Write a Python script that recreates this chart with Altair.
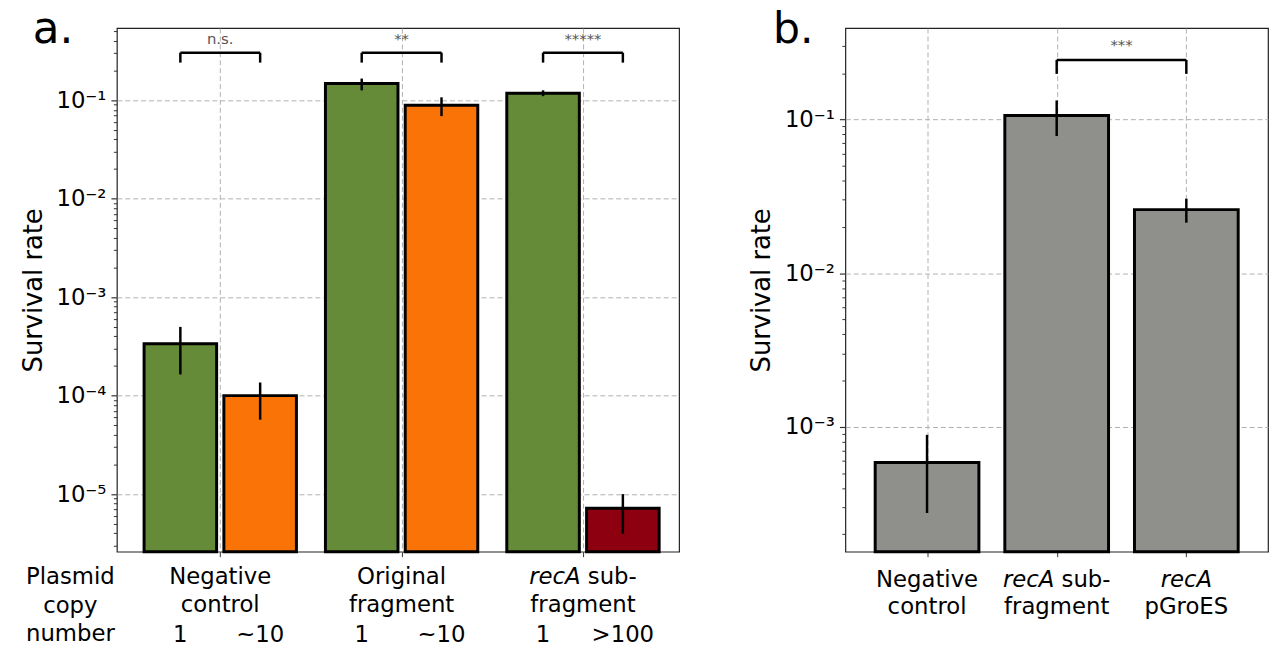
import altair as alt
import pandas as pd

# ---------------- data: panel a ----------------
a_group_pos = [0, 1, 2]
a_line12 = ["Negative\ncontrol", "Original\nfragment", "\nfragment"]
a_green = [3.37e-4, 0.148, 0.118]
a_green_lo = [1.64e-4, 0.126, 0.110]
a_green_hi = [4.99e-4, 0.166, 0.126]
a_other = [1.0e-4, 0.089, 7.2e-6]
a_other_lo = [5.7e-5, 0.069, 3.95e-6]
a_other_hi = [1.36e-4, 0.107, 1.0e-5]
a_green_color = "#658b38"
a_other_colors = ["#f97306", "#f97306", "#8c000f"]
a_copy_green = ["1", "1", "1"]
a_copy_other = ["~10", "~10", ">100"]
a_sig = ["n.s.", "**", "*****"]
a_major = [1e-5, 1e-4, 1e-3, 1e-2, 1e-1]

# ---------------- data: panel b ----------------
b_pos = [0, 1, 2]
b_line12 = ["Negative\ncontrol", "\nfragment", "\npGroES"]
b_vals = [5.86e-4, 0.106, 0.0259]
b_lo = [2.75e-4, 0.078, 0.0213]
b_hi = [8.87e-4, 0.133, 0.0305]
b_sig = ["***"]
b_major = [1e-3, 1e-2, 1e-1]
b_color = "#8f908c"

FONT = "DejaVu Sans"
A_YMIN, A_YMAX = 2.6e-6, 0.54
B_YMIN, B_YMAX = 1.54e-4, 0.393
OFF = 0.22
HALF_A = 0.2
HALF_B = 0.4

def minors(lo, hi):
    out = []
    e = -7
    while e < 1:
        for m in range(2, 10):
            v = m * 10.0 ** e
            if lo <= v <= hi:
                out.append(v)
        e += 1
    return out

LABEL_EXPR = ("'10\u207b' + substring('\u2070\u00b9\u00b2\u00b3\u2074\u2075\u2076\u2077\u2078\u2079', "
              "-round(log(datum.value)/LN10), -round(log(datum.value)/LN10)+1)")

GRID = dict(gridColor="#b0b0b0", gridDash=[5, 3], gridWidth=1)

def major_axis(vals):
    return alt.Axis(values=vals, labelExpr=LABEL_EXPR, orient="left", domain=False,
                    tickSize=6, tickColor="#333", tickWidth=1.2, labelPadding=5,
                    labelFont=FONT, labelFontSize=23, labelColor="black",
                    title="Survival rate", titleFont=FONT, titleFontSize=26,
                    titleFontWeight="normal", titleColor="black", titlePadding=10,
                    grid=True, **GRID)

def minor_axis(vals):
    return alt.Axis(values=vals, labels=False, orient="left", domain=False, grid=False,
                    tickSize=3.5, tickColor="#333", tickWidth=1, title=None)

def x_axis():
    return alt.Axis(values=[0, 1, 2], labels=False, domain=False, tickSize=5,
                    tickColor="#333", title=None, grid=True, **GRID)

# ---------------- panel a ----------------
rows = []
for i, p in enumerate(a_group_pos):
    rows.append(dict(c=p - OFF, x0=p - OFF - HALF_A, x1=p - OFF + HALF_A, val=a_green[i],
                     lo=a_green_lo[i], hi=a_green_hi[i], color=a_green_color, copy=a_copy_green[i]))
    rows.append(dict(c=p + OFF, x0=p + OFF - HALF_A, x1=p + OFF + HALF_A, val=a_other[i],
                     lo=a_other_lo[i], hi=a_other_hi[i], color=a_other_colors[i], copy=a_copy_other[i]))
dfa = pd.DataFrame(rows)

xsA = alt.Scale(domain=[-0.57, 2.53], nice=False, zero=False)
ysA = alt.Scale(type="log", domain=[A_YMIN, A_YMAX], nice=False)

barsA = alt.Chart(dfa).mark_bar(stroke="black", strokeWidth=3).encode(
    x=alt.X("x0:Q", scale=xsA, axis=x_axis()), x2="x1",
    y=alt.Y("val:Q", scale=ysA, axis=major_axis(a_major)), y2=alt.datum(A_YMIN),
    color=alt.Color("color:N", scale=None))
errA = alt.Chart(dfa).mark_rule(color="black", strokeWidth=2.5).encode(
    x=alt.X("c:Q", scale=xsA, axis=x_axis()),
    y=alt.Y("lo:Q", scale=ysA, axis=minor_axis(minors(A_YMIN, A_YMAX))), y2="hi")

A_BR, A_BR_END, A_TXT = 0.304, 0.241, 0.42
brA = pd.DataFrame(dict(xl=[p - OFF for p in a_group_pos], xr=[p + OFF for p in a_group_pos],
                        y=[A_BR] * 3, sig=a_sig, mid=a_group_pos))
brAv = pd.DataFrame(dict(x=[p - OFF for p in a_group_pos] + [p + OFF for p in a_group_pos],
                         y1=[A_BR_END] * 6, y2=[A_BR] * 6))
hA = alt.Chart(brA).mark_rule(color="black", strokeWidth=2.5).encode(
    x=alt.X("xl:Q", scale=xsA, axis=x_axis()), x2="xr",
    y=alt.Y("y:Q", scale=ysA, axis=None))
vA = alt.Chart(brAv).mark_rule(color="black", strokeWidth=2.5).encode(
    x=alt.X("x:Q", scale=xsA, axis=x_axis()),
    y=alt.Y("y1:Q", scale=ysA, axis=None), y2="y2")
sigA = alt.Chart(brA).mark_text(font=FONT, fontSize=15, color="#555", baseline="middle").encode(
    x=alt.X("mid:Q", scale=xsA, axis=x_axis()),
    y=alt.Y("y:Q", scale=ysA, axis=None), text="sig:N").transform_calculate(y=str(A_TXT))

HA = 529
L1A, L3A = HA + 15, HA + 73
labA = pd.DataFrame(dict(pos=a_group_pos, t=a_line12))
l12A = alt.Chart(labA).mark_text(font=FONT, fontSize=23, baseline="top", lineBreak="\n",
                                 lineHeight=28, color="black").encode(
    x=alt.X("pos:Q", scale=xsA, axis=x_axis()), y=alt.value(L1A), text="t:N")
recA_a = alt.Chart(pd.DataFrame(dict(pos=[2], t=["recA"]))).mark_text(
    font=FONT, fontSize=23, fontStyle="italic", baseline="top", align="right", dx=-2.4,
    color="black").encode(x=alt.X("pos:Q", scale=xsA, axis=x_axis()), y=alt.value(L1A), text="t:N")
sub_a = alt.Chart(pd.DataFrame(dict(pos=[2], t=["sub-"]))).mark_text(
    font=FONT, fontSize=23, baseline="top", align="left", dx=4.9,
    color="black").encode(x=alt.X("pos:Q", scale=xsA, axis=x_axis()), y=alt.value(L1A), text="t:N")
copyA = alt.Chart(dfa).mark_text(font=FONT, fontSize=23, baseline="top", color="black").encode(
    x=alt.X("c:Q", scale=xsA, axis=x_axis()), y=alt.value(L3A), text="copy:N")
plasA = alt.Chart(pd.DataFrame(dict(t=["Plasmid\ncopy\nnumber"]))).mark_text(
    font=FONT, fontSize=23, baseline="top", lineBreak="\n", lineHeight=28.5, color="black").encode(
    x=alt.value(-47), y=alt.value(L1A), text="t:N")
tagA = alt.Chart(pd.DataFrame(dict(t=["a."]))).mark_text(
    font=FONT, fontSize=44, align="left", baseline="alphabetic", color="black").encode(
    x=alt.value(-85), y=alt.value(15), text="t:N")

panelA = alt.layer(barsA, errA, hA, vA, sigA, l12A, recA_a, sub_a, copyA, plasA, tagA).resolve_axis(
    y="independent").properties(width=568, height=HA)

# ---------------- panel b ----------------
dfb = pd.DataFrame(dict(c=b_pos, x0=[p - HALF_B for p in b_pos], x1=[p + HALF_B for p in b_pos],
                        val=b_vals, lo=b_lo, hi=b_hi, t=b_line12))
xsB = alt.Scale(domain=[-0.63, 2.63], nice=False, zero=False)
ysB = alt.Scale(type="log", domain=[B_YMIN, B_YMAX], nice=False)

barsB = alt.Chart(dfb).mark_bar(stroke="black", strokeWidth=3, color=b_color).encode(
    x=alt.X("x0:Q", scale=xsB, axis=x_axis()), x2="x1",
    y=alt.Y("val:Q", scale=ysB, axis=major_axis(b_major)), y2=alt.datum(B_YMIN))
errB = alt.Chart(dfb).mark_rule(color="black", strokeWidth=2.5).encode(
    x=alt.X("c:Q", scale=xsB, axis=x_axis()),
    y=alt.Y("lo:Q", scale=ysB, axis=minor_axis(minors(B_YMIN, B_YMAX))), y2="hi")

B_BR, B_BR_END, B_TXT = 0.244, 0.198, 0.305
brB = pd.DataFrame(dict(xl=[1], xr=[2], y=[B_BR], sig=b_sig, mid=[1.5]))
brBv = pd.DataFrame(dict(x=[1, 2], y1=[B_BR_END] * 2, y2=[B_BR] * 2))
hB = alt.Chart(brB).mark_rule(color="black", strokeWidth=2.5).encode(
    x=alt.X("xl:Q", scale=xsB, axis=x_axis()), x2="xr",
    y=alt.Y("y:Q", scale=ysB, axis=None))
vB = alt.Chart(brBv).mark_rule(color="black", strokeWidth=2.5).encode(
    x=alt.X("x:Q", scale=xsB, axis=x_axis()),
    y=alt.Y("y1:Q", scale=ysB, axis=None), y2="y2")
sigB = alt.Chart(brB).mark_text(font=FONT, fontSize=15, color="#555", baseline="middle").encode(
    x=alt.X("mid:Q", scale=xsB, axis=x_axis()),
    y=alt.Y("y:Q", scale=ysB, axis=None), text="sig:N").transform_calculate(y=str(B_TXT))

L1B = HA + 18
l12B = alt.Chart(dfb).mark_text(font=FONT, fontSize=23, baseline="top", lineBreak="\n",
                                lineHeight=27, color="black").encode(
    x=alt.X("c:Q", scale=xsB, axis=x_axis()), y=alt.value(L1B), text="t:N")
recB1 = alt.Chart(pd.DataFrame(dict(pos=[1], t=["recA"]))).mark_text(
    font=FONT, fontSize=23, fontStyle="italic", baseline="top", align="right", dx=-2.4,
    color="black").encode(x=alt.X("pos:Q", scale=xsB, axis=x_axis()), y=alt.value(L1B), text="t:N")
subB = alt.Chart(pd.DataFrame(dict(pos=[1], t=["sub-"]))).mark_text(
    font=FONT, fontSize=23, baseline="top", align="left", dx=4.9,
    color="black").encode(x=alt.X("pos:Q", scale=xsB, axis=x_axis()), y=alt.value(L1B), text="t:N")
recB2 = alt.Chart(pd.DataFrame(dict(pos=[2], t=["recA"]))).mark_text(
    font=FONT, fontSize=23, fontStyle="italic", baseline="top", color="black").encode(
    x=alt.X("pos:Q", scale=xsB, axis=x_axis()), y=alt.value(L1B), text="t:N")
tagB = alt.Chart(pd.DataFrame(dict(t=["b."]))).mark_text(
    font=FONT, fontSize=43, align="left", baseline="alphabetic", color="black").encode(
    x=alt.value(-73), y=alt.value(15), text="t:N")

panelB = alt.layer(barsB, errB, hB, vB, sigB, l12B, recB1, subB, recB2, tagB).resolve_axis(
    y="independent").properties(width=427, height=HA)

chart = alt.hconcat(panelA, panelB, spacing=68).properties(
    padding={"left": 11, "top": -4, "right": 0, "bottom": 0}, background="white"
).configure_view(stroke="#222", strokeWidth=1.2)

chart.save("out.html", embed_options={"renderer": "svg", "actions": False})
